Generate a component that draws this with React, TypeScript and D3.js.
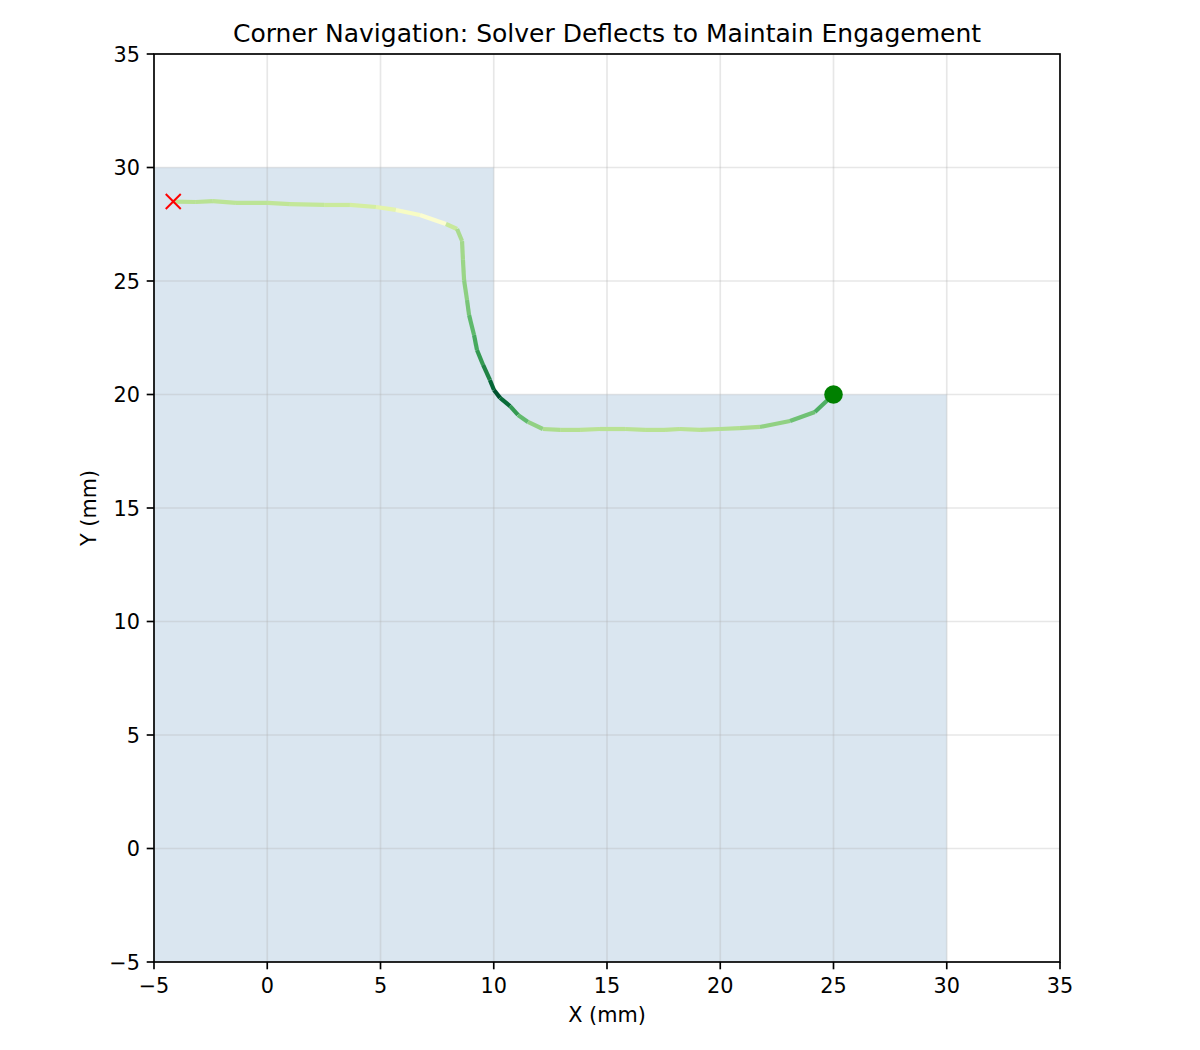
import * as d3 from "d3";

// tool path (mm)
const pathX = [-4.15, -3.15, -2.4, -1.38, 0.03, 1.0, 2.51, 3.65, 4.8, 5.68, 6.74, 7.89, 8.38, 8.6, 8.64, 8.69, 8.82, 8.91, 9.13, 9.26, 9.53, 9.83, 10.01, 10.28, 10.72, 11.07, 11.51, 12.17, 12.93, 13.81, 14.69, 15.8, 16.68, 17.56, 18.22, 19.11, 19.99, 20.87, 21.75, 23.08, 24.18, 25.0];
const pathY = [28.5, 28.48, 28.52, 28.44, 28.44, 28.39, 28.35, 28.35, 28.26, 28.13, 27.91, 27.51, 27.29, 26.76, 25.93, 25.04, 24.16, 23.5, 22.62, 21.96, 21.3, 20.64, 20.2, 19.85, 19.49, 19.1, 18.79, 18.48, 18.44, 18.44, 18.48, 18.48, 18.44, 18.44, 18.48, 18.44, 18.48, 18.52, 18.57, 18.83, 19.23, 20.0];
// engagement per segment (colormap value)
const engagement = [0.34, 0.34, 0.33, 0.33, 0.32, 0.31, 0.29, 0.26, 0.2, 0.1, 0.06, 0.3, 0.38, 0.4, 0.42, 0.45, 0.5, 0.56, 0.62, 0.68, 0.76, 0.88, 0.95, 0.86, 0.68, 0.55, 0.44, 0.37, 0.35, 0.34, 0.34, 0.34, 0.34, 0.34, 0.34, 0.35, 0.36, 0.38, 0.44, 0.52, 0.6, 0.76].slice(0, 41);

// workpiece region (L-shape)
const regionX = [-5, 10, 10, 30, 30, -5];
const regionY = [30, 30, 20, 20, -5, -5];

const ticks = [-5, 0, 5, 10, 15, 20, 25, 30, 35];
const start = { x: -4.15, y: 28.5 };
const end = { x: 25, y: 20 };

const W = 1200, H = 1050;
const M = { left: 154, right: 1060, top: 54, bottom: 962 };
const FONT = "DejaVu Sans, sans-serif";
const fmt = (v: number) => (v < 0 ? "\u2212" + Math.abs(v) : String(v));

export default function App() {
  const x = d3.scaleLinear().domain([-5, 35]).range([M.left, M.right]);
  const y = d3.scaleLinear().domain([-5, 35]).range([M.bottom, M.top]);
  const color = (v: number) => d3.interpolateYlGn(v);
  const region = d3.line<number>().x((i) => x(regionX[i])).y((i) => y(regionY[i]))(regionX.map((_, i) => i)) + "Z";
  const sw = 1.67;

  return (
    <svg width={W} height={H} style={{ position: "absolute", left: 0, top: 0, background: "#fff" }} fontFamily={FONT}>
      <path d={region} fill="#4682b4" fillOpacity={0.2} />
      {/* grid */}
      {ticks.map((t) => (
        <g key={t}>
          <line x1={x(t)} x2={x(t)} y1={M.top} y2={M.bottom} stroke="#b0b0b0" strokeOpacity={0.3} strokeWidth={sw} />
          <line x1={M.left} x2={M.right} y1={y(t)} y2={y(t)} stroke="#b0b0b0" strokeOpacity={0.3} strokeWidth={sw} />
        </g>
      ))}
      {/* path segments */}
      {engagement.map((v, i) => (
        <line key={i} x1={x(pathX[i])} y1={y(pathY[i])} x2={x(pathX[i + 1])} y2={y(pathY[i + 1])}
          stroke={color(v)} strokeWidth={4.2} strokeLinecap="butt" />
      ))}
      {/* start marker */}
      <g stroke="red" strokeWidth={2}>
        <line x1={x(start.x) - 7.5} x2={x(start.x) + 7.5} y1={y(start.y) - 7.5} y2={y(start.y) + 7.5} />
        <line x1={x(start.x) - 7.5} x2={x(start.x) + 7.5} y1={y(start.y) + 7.5} y2={y(start.y) - 7.5} />
      </g>
      <circle cx={x(end.x)} cy={y(end.y)} r={9.3} fill="green" />
      {/* axes frame */}
      <rect x={M.left} y={M.top} width={M.right - M.left} height={M.bottom - M.top} fill="none" stroke="#000" strokeWidth={sw} />
      {ticks.map((t) => (
        <g key={"t" + t}>
          <line x1={x(t)} x2={x(t)} y1={M.bottom} y2={M.bottom + 7.3} stroke="#000" strokeWidth={sw} />
          <text x={x(t)} y={M.bottom + 31} fontSize={20.8} textAnchor="middle">{fmt(t)}</text>
          <line x1={M.left - 7.3} x2={M.left} y1={y(t)} y2={y(t)} stroke="#000" strokeWidth={sw} />
          <text x={M.left - 14} y={y(t) + 7.5} fontSize={20.8} textAnchor="end">{fmt(t)}</text>
        </g>
      ))}
      <text x={(M.left + M.right) / 2} y={1022} fontSize={20.8} textAnchor="middle">X (mm)</text>
      <text transform={`translate(96,${(M.top + M.bottom) / 2}) rotate(-90)`} fontSize={20.8} textAnchor="middle">Y (mm)</text>
      <text x={(M.left + M.right) / 2} y={42} fontSize={25} textAnchor="middle">Corner Navigation: Solver Deflects to Maintain Engagement</text>
    </svg>
  );
}
